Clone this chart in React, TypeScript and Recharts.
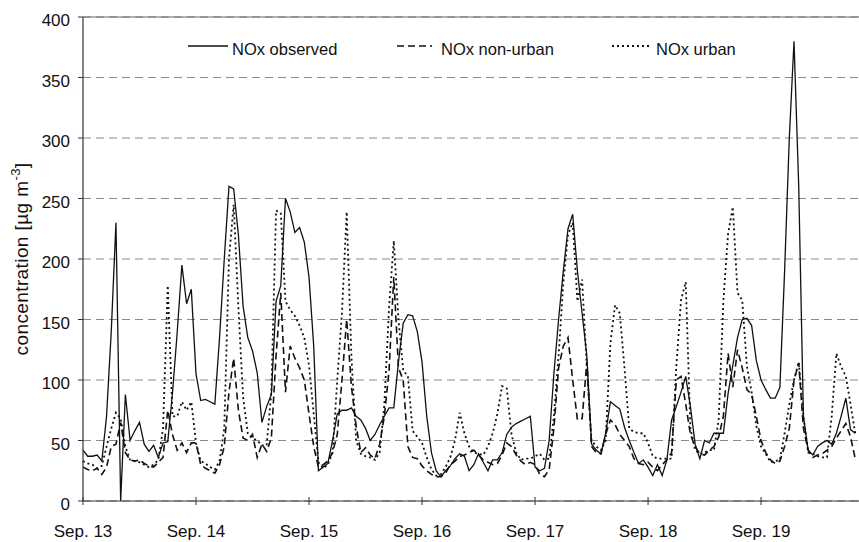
import { CartesianGrid, Legend, Line, LineChart, ReferenceLine, XAxis, YAxis } from "recharts";

// hourly NOx concentrations [µg m-3], hour 0 = Sep. 13 00:00
const observed = [
  42, 37, 37, 38, 33, 70, 140, 230, 0, 88,
  50, 58, 65, 47, 41, 46, 36, 48, 49, 89,
  139, 195, 163, 175, 105, 83, 84, 82, 80, 135,
  200, 260, 258, 220, 161, 135, 124, 106, 65, 78,
  88, 165, 178, 250, 239, 222, 226, 214, 185, 128,
  25, 28, 31, 50, 72, 75, 75, 77, 70, 67,
  60, 50, 55, 63, 70, 77, 77, 115, 147, 154,
  153, 140, 115, 70, 40, 25, 20, 25, 29, 35,
  39, 37, 25, 30, 39, 32, 25, 34, 34, 40,
  55, 61, 64, 66, 68, 70, 28, 25, 27, 50,
  105, 150, 190, 225, 237, 190, 155, 120, 47, 42,
  39, 56, 82, 79, 76, 61, 50, 40, 31, 34,
  28, 21, 30, 21, 34, 67, 78, 90, 103, 78,
  47, 35, 50, 48, 56, 56, 56, 89, 112, 135,
  150, 151, 145, 116, 100, 92, 85, 85, 94, 190,
  300, 380, 260, 70, 42, 38, 45, 48, 50, 47,
  56, 70, 85, 59, 56,
];

const nonUrban = [
  28, 26, 25, 27, 22, 28, 45, 47, 65, 40,
  34, 33, 34, 31, 29, 28, 32, 36, 75, 55,
  42, 48, 40, 48, 48, 30, 27, 25, 23, 30,
  45, 90, 118, 75, 52, 50, 55, 36, 47, 41,
  52, 120, 172, 90, 128, 118, 110, 100, 72, 45,
  28, 30, 33, 40, 55, 100, 150, 95, 62, 40,
  44, 38, 35, 47, 70, 108, 185, 110, 100, 45,
  36, 35, 29, 25, 22, 20, 20, 23, 30, 33,
  37, 38, 40, 42, 38, 34, 32, 30, 31, 38,
  48, 45, 38, 33, 30, 32, 30, 22, 20, 26,
  60, 110, 128, 135, 100, 67, 68, 115, 45, 40,
  39, 55, 67, 63, 55, 50, 45, 35, 31, 30,
  32, 28, 25, 30, 34, 40, 100, 103, 80, 55,
  45, 39, 38, 42, 45, 53, 70, 122, 94, 125,
  110, 92, 88, 70, 50, 40, 34, 31, 33, 45,
  60, 100, 114, 60, 42, 36, 38, 39, 42, 45,
  52, 58, 64, 53, 35,
];

const urban = [
  33, 31, 30, 27, 29, 45, 60, 73, 68, 45,
  34, 33, 32, 30, 28, 30, 34, 60, 178, 70,
  70, 82, 75, 82, 48, 33, 31, 28, 26, 33,
  60, 200, 245, 160, 86, 56, 52, 50, 46, 46,
  90, 240, 238, 165, 158, 153, 145, 135, 112, 72,
  32, 27, 30, 40, 100, 156, 239, 120, 50, 39,
  37, 36, 34, 40, 80, 160, 215, 150, 108, 103,
  58, 53, 48, 36, 26, 21, 22, 28, 36, 50,
  73, 56, 45, 40, 39, 38, 45, 56, 72, 95,
  93, 55, 40, 34, 35, 35, 37, 39, 34, 35,
  70, 120, 180, 220, 230, 165, 183, 110, 50, 45,
  42, 50, 130, 162, 155, 110, 60, 57, 56, 56,
  48, 37, 35, 35, 35, 35, 111, 166, 181, 60,
  42, 39, 40, 42, 42, 67, 166, 221, 243, 172,
  166, 111, 90, 62, 45, 39, 32, 33, 34, 56,
  80, 100, 115, 70, 40, 39, 37, 36, 36, 70,
  122, 111, 103, 80, 56,
];

const dayTicks = [0, 24, 48, 72, 96, 120, 144];
const dayLabels = ["Sep. 13", "Sep. 14", "Sep. 15", "Sep. 16", "Sep. 17", "Sep. 18", "Sep. 19"];
const valueTicks = [0, 50, 100, 150, 200, 250, 300, 350, 400];

const rows = observed.map((value, hour) => ({
  hour,
  observed: value,
  nonUrban: nonUrban[hour],
  urban: urban[hour],
}));

const FONT = "'Liberation Sans', Arial, sans-serif";
const INK = "#111";

const lineStyles: Record<string, { dash?: string; width: number }> = {
  observed: { width: 1.3 },
  nonUrban: { dash: "7 4", width: 1.6 },
  urban: { dash: "2 3", width: 1.8 },
};

// sample start / end and text start for each legend entry
const legendSpots: Record<string, { x1: number; x2: number; tx: number }> = {
  observed: { x1: 188, x2: 228, tx: 232 },
  nonUrban: { x1: 397, x2: 432, tx: 441 },
  urban: { x1: 612, x2: 652, tx: 656 },
};

function DayTick({ x, y, payload }: any) {
  const label = dayLabels[dayTicks.indexOf(payload.value)];
  return (
    <g>
      <line x1={x} x2={x} y1={y - 4} y2={y + 4} stroke="#333" />
      <text x={x} y={y + 36} textAnchor="middle" fontSize={17} fill={INK} fontFamily={FONT}>
        {label}
      </text>
    </g>
  );
}

function ValueTick({ x, y, payload }: any) {
  return (
    <text x={x} y={y} dy={9} textAnchor="end" fontSize={17} fill={INK} fontFamily={FONT}>
      {payload.value}
    </text>
  );
}

function AxisTitle({ viewBox }: any) {
  const cx = 28;
  const cy = viewBox.y + viewBox.height / 2;
  return (
    <text
      x={cx}
      y={cy}
      transform={`rotate(-90, ${cx}, ${cy})`}
      textAnchor="middle"
      fontSize={19}
      letterSpacing={0.4}
      fill={INK}
      fontFamily={FONT}
    >
      concentration [µg m
      <tspan dy={-8} fontSize={13}>-3</tspan>
      <tspan dy={8}>]</tspan>
    </text>
  );
}

function LegendBox({ payload }: any) {
  return (
    <svg width={859} height={60} style={{ display: "block" }}>
      {(payload || []).map((entry: any) => {
        const spot = legendSpots[entry.dataKey];
        const style = lineStyles[entry.dataKey];
        if (!spot) return null;
        return (
          <g key={entry.dataKey}>
            <line x1={spot.x1} x2={spot.x2} y1={46} y2={46} stroke={INK} strokeWidth={style.width} strokeDasharray={style.dash} />
            <text x={spot.tx} y={55} fontSize={16.5} fill={INK} fontFamily={FONT}>
              {entry.value}
            </text>
          </g>
        );
      })}
    </svg>
  );
}

export default function App() {
  return (
    <div style={{ position: "absolute", left: 0, top: 0, width: 859, height: 542, background: "#fff" }}>
      <LineChart width={859} height={542} data={rows} margin={{ top: 17, right: 0, bottom: 0, left: 0 }} style={{ fontFamily: FONT }}>
        <CartesianGrid horizontal vertical={false} stroke="#8a8a8a" strokeDasharray="8 5" />
        <ReferenceLine y={400} stroke="#666" strokeWidth={1.2} />
        <XAxis
          type="number"
          dataKey="hour"
          domain={[0, 164.8]}
          ticks={dayTicks}
          interval={0}
          tick={<DayTick />}
          tickSize={0}
          tickMargin={0}
          tickLine={false}
          height={41}
          axisLine={{ stroke: "#333", strokeWidth: 1.2 }}
        />
        <YAxis
          type="number"
          domain={[0, 400]}
          ticks={valueTicks}
          interval={0}
          width={83}
          tick={<ValueTick />}
          tickSize={5}
          tickMargin={8}
          tickLine={{ stroke: "#333" }}
          axisLine={{ stroke: "#333", strokeWidth: 1.2 }}
          label={<AxisTitle />}
        />
        <Legend
          layout="horizontal"
          verticalAlign="middle"
          align="center"
          content={<LegendBox />}
          wrapperStyle={{ position: "absolute", top: 0, left: 0, width: 859, height: 60 }}
        />
        <Line type="linear" dataKey="urban" name="NOx urban" stroke={INK} strokeWidth={lineStyles.urban.width} strokeDasharray={lineStyles.urban.dash} dot={false} activeDot={false} isAnimationActive={false} />
        <Line type="linear" dataKey="nonUrban" name="NOx non-urban" stroke={INK} strokeWidth={lineStyles.nonUrban.width} strokeDasharray={lineStyles.nonUrban.dash} dot={false} activeDot={false} isAnimationActive={false} />
        <Line type="linear" dataKey="observed" name="NOx observed" stroke={INK} strokeWidth={lineStyles.observed.width} dot={false} activeDot={false} isAnimationActive={false} />
      </LineChart>
    </div>
  );
}
